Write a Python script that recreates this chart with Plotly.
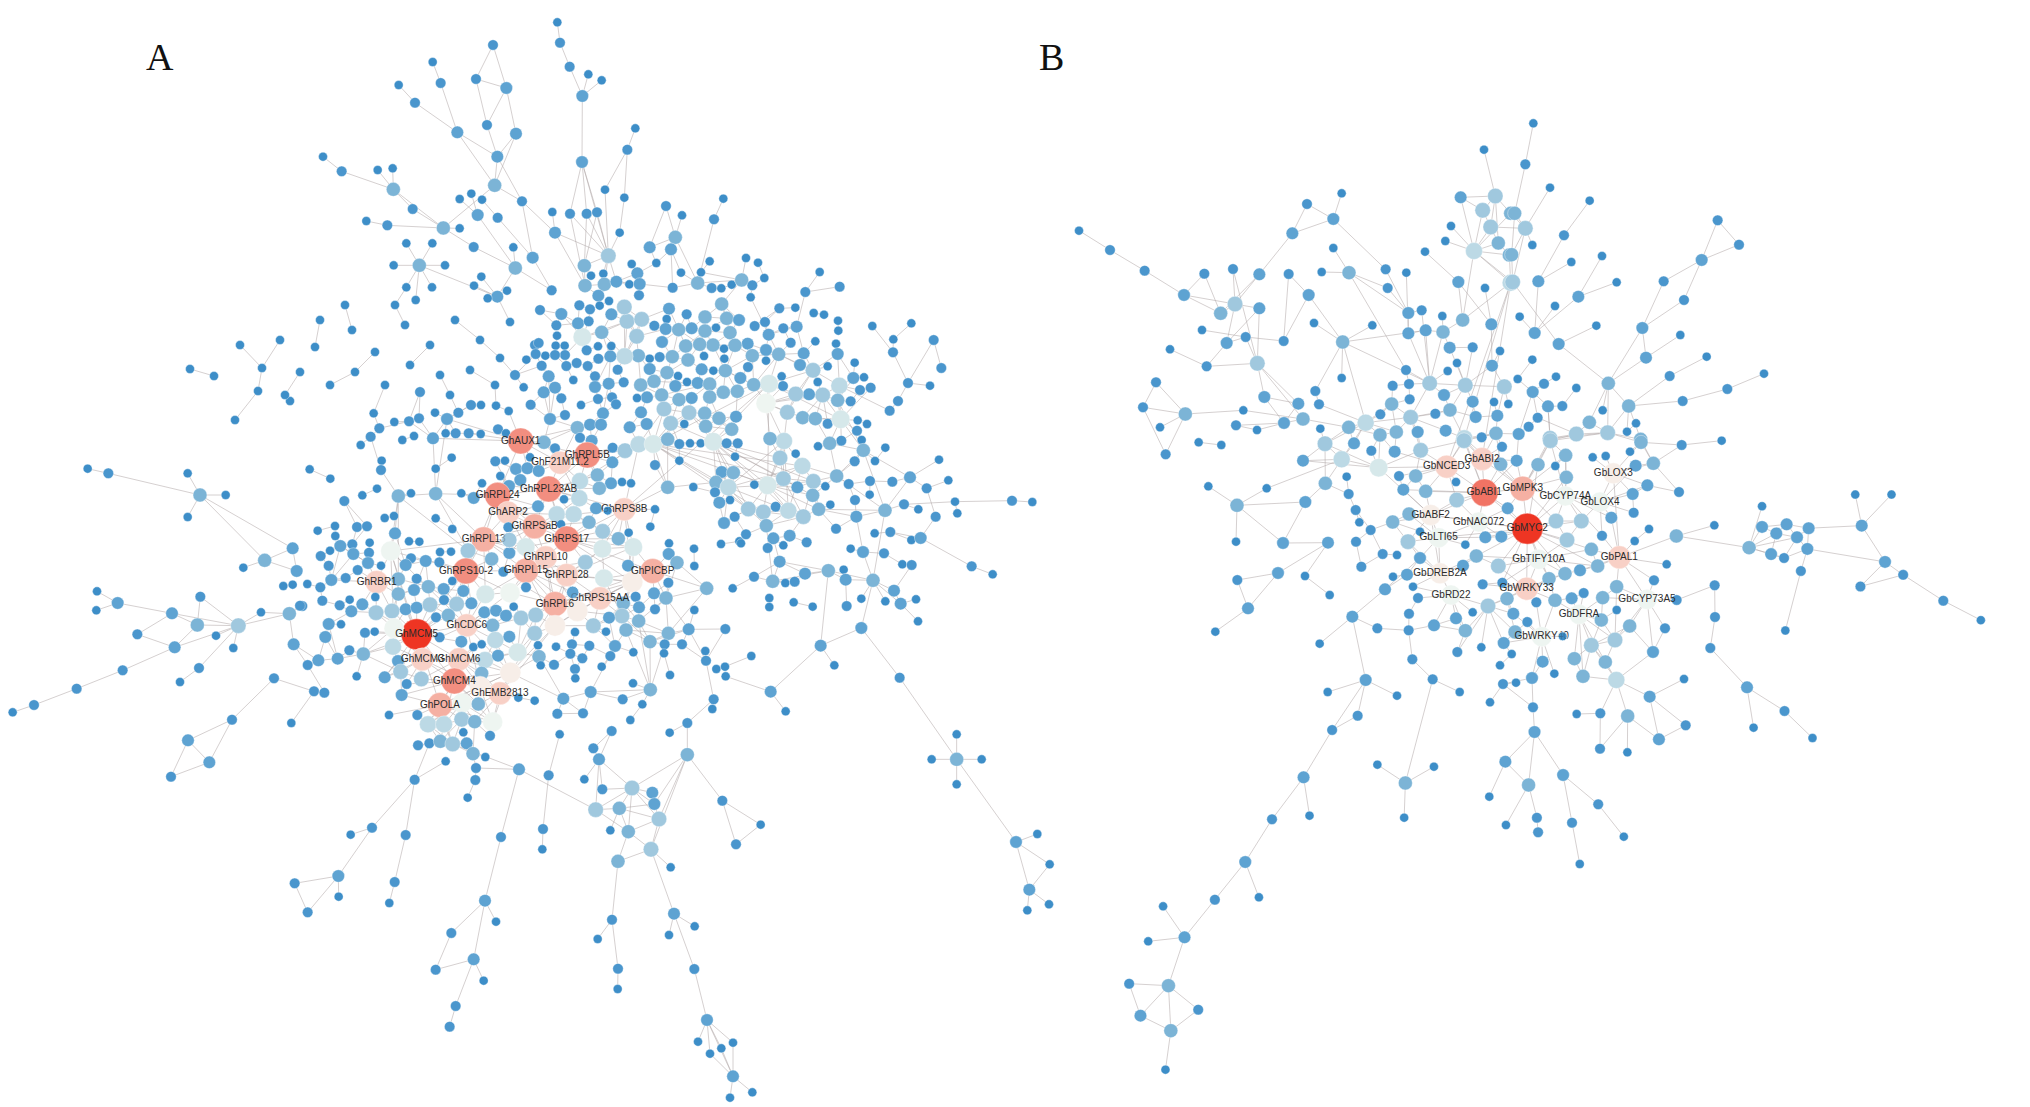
"""
Two co-expression networks, panel A (Gh genes) and panel B (Gb genes).

Node rows are (key, x, y, level), read off the picture by region. Each region has
its own origin and scale, see REGIONS. Level is the degree class that drives colour
and size. Edges are typed where they can be followed by eye; inside the dense cores
single edges cannot be read, so nodes short of links get their nearest neighbours.
"""

import numpy as np
import plotly.graph_objects as go

A_TOP = [
    ("t1",772,67,0),("t2",780,128,1),("t3",809,200,1),("t4",865,223,0),("t5",905,241,0),("t6",847,288,2),
    ("t7",846,486,2),("t8",1006,385,0),("t9",982,449,1),("t10",915,569,0),("t11",973,593,0),("t12",810,641,1),
    ("t13",860,641,1),("t14",891,637,1),("t15",757,636,0),("t16",765,698,2),("t17",959,698,0),("t18",925,767,4),
    ("t19",853,797,3),("t20",873,827,0),("t21",910,821,0),("t22",855,857,3),("t23",913,853,3),("t24",949,845,2),
    ("t25",895,887,2),("t26",995,792,0),("t27",1012,820,2),("t28",988,853,0),("t29",1019,852,2),("t30",1017,886,1),
    ("t31",1069,789,0),("t32",1049,742,2),("t33",1098,618,1),("t34",1146,646,0),("t35",1126,712,3),("t36",1113,748,2),
    ("t37",1143,818,0),("t38",1118,863,1),("t39",1193,849,3),("t40",1203,817,0),("t41",1229,784,0),("t42",1242,658,1),
    ("t43",1270,596,0),("t44",1235,864,1),("t45",1264,865,0),("t46",1295,854,0),("t47",1325,840,3),("t48",1338,774,0),
    ("t52",579,135,1),("t53",528,237,1),("t54",619,264,2),("t55",561,375,1),("t56",648,401,2),("t57",592,470,2),
    ("t58",584,556,3),("t59",666,604,1),("t60",398,186,0),("t61",422,249,1),("t62",296,255,0),("t63",345,308,1),
    ("t64",472,397,2),("t65",69,470,0),("t66",125,514,1),("t67",233,510,0),("t68",278,505,0),("t69",280,568,3),
    ("t70",338,627,1),("t71",199,663,0),("t72",262,676,1),("t73",430,684,3),("t74",479,597,0),("t75",514,581,0),
    ("t76",546,599,0),("t77",533,645,2),("t78",593,653,1),("t79",479,685,0),("t80",319,730,0),("t81",397,730,0),
    ("t82",281,796,0),("t83",358,796,3),("t84",435,796,0),("t85",319,862,0),("t86",396,862,0),("t87",521,741,1),
    ("t88",640,742,0),("t89",698,773,2),("t90",646,804,3),("t91",544,830,0),("t92",522,857,0),("t93",621,872,0),
    ("t94",592,890,2),("t95",755,871,1),("t96",563,895,0),("t97",347,900,0),
]

# stretch above the A core that no crop covered, whole-picture pixels
A_GAP = [
    ("g1",190,369,0),("g2",214,376,0),("g3",258,391,0),("g4",290,401,0),("g5",315,347,0),("g6",320,320,0),
    ("g7",352,330,0),("g8",375,352,0),("g9",405,325,0),("g10",430,345,0),("g11",455,320,0),("g12",480,340,0),
    ("g13",510,322,0),("g14",500,358,0),("g15",470,370,0),("g16",440,375,0),("g17",410,365,0),("g18",385,385,0),
    ("g19",355,372,0),("g20",330,385,0),("g21",300,372,0),("g22",450,395,0),("g23",495,385,0),("g24",420,392,1),
    ("g25",515,375,1),("g26",535,345,1),("g27",540,310,1),("g28",395,305,0),("g29",345,305,0),("g30",280,340,0),
    ("g31",285,395,0),("g32",262,368,0),("g33",240,345,0),("g34",235,420,0),
]

A_UPPER = [
    ("u1",778,265,1),("u2",826,263,0),("u3",881,279,0),("u4",912,284,0),("u5",954,302,0),("u6",955,332,0),
    ("u7",1057,318,0),("u8",1174,310,0),("u9",1120,358,0),("u10",1241,360,1),("u11",1119,397,1),("u12",1264,444,1),
    ("u13",1164,489,1),("u14",1230,497,0),("u15",1134,543,1),("u16",1109,572,1),("u17",605,252,3),("u18",555,291,3),
    ("u19",620,295,3),("u20",657,300,2),("u21",500,283,1),("u22",447,266,2),("u23",440,297,0),("u24",403,317,1),
    ("u25",437,327,2),("u26",476,329,3),("u27",515,325,2),("u28",555,333,3),("u29",588,323,0),("u30",630,338,3),
    ("u31",704,318,1),("u32",735,306,1),("u33",746,344,2),("u34",790,325,1),("u35",830,320,2),("u36",812,368,1),
    ("u37",886,364,0),("u38",948,371,0),("u39",953,402,2),("u40",851,400,2),("u41",776,403,3),("u42",738,390,2),
    ("u43",683,371,2),("u44",645,376,3),("u45",579,375,3),("u46",539,373,3),("u47",497,378,3),("u48",426,366,2),
    ("u49",612,386,0),("u50",697,407,3),("u51",738,422,0),("u52",613,416,0),("u53",552,408,0),("u54",504,420,3),
    ("u55",457,410,3),("u56",419,411,1),("u57",389,416,0),("u58",355,407,3),("u59",314,409,5),("u60",271,409,2),
    ("u61",350,349,4),("u62",321,304,4),("u63",365,298,4),("u64",313,261,4),("u65",245,337,3),("u66",187,351,6),
    ("u67",274,283,2),("u68",174,310,2),("u69",206,304,1),("u70",210,268,1),("u71",239,257,0),("u72",267,243,0),
    ("u73",178,256,1),("u74",124,282,2),("u75",109,316,1),("u76",111,347,0),("u77",56,369,1),("u78",107,377,0),
    ("u79",134,377,0),("u80",234,379,0),("u81",274,378,0),("u82",200,391,1),("u83",135,405,1),("u84",105,405,1),
    ("u85",76,407,0),("u86",47,402,1),("u87",19,419,0),("u88",65,437,1),("u89",139,438,1),("u90",170,429,1),
    ("u91",203,438,1),("u92",235,416,1),("u93",293,449,1),("u94",389,447,2),("u95",441,458,3),("u96",474,468,0),
    ("u97",545,448,2),("u98",580,452,0),("u99",616,452,3),("u100",661,474,2),("u101",684,441,1),("u102",785,469,0),
    ("u103",789,498,1),("u104",747,491,6),("u105",701,494,3),("u106",840,435,2),("u107",879,451,4),("u108",923,439,0),
    ("u109",1004,428,0),("u110",1000,474,2),("u111",1032,472,0),("u112",1020,510,1),("u113",1052,503,1),("u114",992,544,1),
    ("u115",958,497,5),("u116",953,541,3),("u117",908,525,4),("u118",867,523,2),("u119",827,522,4),("u120",893,486,0),
    ("u121",738,550,7),("u122",802,577,4),("u123",848,593,3),("u124",886,596,3),("u125",923,611,1),("u126",962,598,6),
    ("u127",1013,601,0),("u128",1041,612,0),("u129",1011,632,1),("u130",1025,660,0),("u131",964,662,1),("u132",1030,691,3),
    ("u133",1096,683,0),("u134",929,670,3),("u135",894,679,0),("u136",1004,724,1),("u137",1065,723,0),("u138",1257,719,0),
    ("u139",792,663,5),("u140",750,656,3),("u141",827,701,0),("u142",780,714,4),("u143",847,738,5),("u144",950,768,3),
    ("u145",986,792,1),("u146",880,784,4),("u147",790,776,4),("u148",743,796,6),("u149",703,794,0),("u157",832,802,2),
    ("u158",916,799,0),("u159",878,826,3),("u162",685,867,4),("u163",767,860,1),("u164",730,876,4),("u165",805,872,5),
    ("u166",896,868,3),("u167",931,854,0),("u168",1005,840,1),("u169",1050,783,1),("u170",1117,785,1),("u171",1170,772,2),
    ("u172",1049,824,0),("u173",1220,805,1),("u174",1285,781,0),("u175",1095,871,3),("u176",1152,853,1),("u177",1195,868,0),
    ("u178",1305,845,0),("u179",1312,880,0),("u180",1247,890,1),("u181",1009,890,2),("u182",850,890,4),
    ("u184",266,491,2),("u185",311,487,1),("u186",225,469,1),("u187",225,501,2),("u188",160,480,0),("u189",105,503,2),
    ("u190",86,469,2),("u191",11,502,0),("u192",71,517,2),("u196",124,535,1),("u199",234,537,1),("u200",276,532,1),
    ("u203",362,495,3),("u204",402,484,3),("u205",466,498,2),("u206",501,486,0),("u207",533,489,2),("u208",569,492,3),
    ("u209",610,517,3),("u210",652,514,3),("u211",425,525,3),("u212",381,532,2),("u213",351,534,0),("u214",477,539,3),
    ("u215",515,534,2),("u216",569,531,3),("u261",714,128,0),("u262",733,174,0),("u263",697,196,1),("u264",692,232,0),
    ("u265",899,156,0),("u266",856,216,1),("u267",959,200,1),
]

A_CORE = [
    ("c1",221,40,0),("c2",283,66,0),("c3",327,64,1),("c4",357,55,1),("c5",405,38,0),("c6",441,57,2),("c7",475,38,1),
    ("c8",513,15,1),("c9",543,15,0),("c10",588,17,0),("c11",626,33,0),("c12",692,14,1),("c13",750,57,2),("c14",795,45,1),
    ("c15",843,15,0),("c16",948,13,1),("c17",909,40,2),("c18",1023,37,2),("c19",1092,27,4),("c20",1167,38,4),("c21",1214,40,3),
    ("c22",1257,55,3),("c23",1308,50,2),("c24",832,83,3),("c25",870,74,2),("c26",903,74,2),("c27",989,82,2),("c28",1040,72,2),
    ("c29",1112,70,4),("c30",1153,72,0),("c31",1217,79,3),("c32",1295,88,3),("c33",212,110,1),("c34",182,135,0),("c35",238,85,1),
    ("c36",307,120,0),("c37",342,108,0),("c38",399,115,2),("c39",437,100,0),("c40",467,100,1),("c41",506,100,1),("c42",542,102,0),
    ("c43",594,88,1),("c44",618,100,0),("c45",662,123,11),("c46",732,127,3),("c47",765,145,1),("c48",840,113,1),("c49",875,122,2),
    ("c50",938,143,1),("c51",975,152,4),("c52",1016,133,5),("c53",1060,132,6),("c54",1103,118,3),("c55",1138,132,1),("c56",1170,130,0),
    ("c57",1202,130,0),("c58",1240,125,6),("c59",1280,130,1),("c60",1313,130,1),("c62",862,165,11),("c63",780,188,9),("c64",937,187,2),
    ("c65",1065,195,1),("c66",1138,182,0),("c67",1305,170,0),("c68",586,184,1),("c69",615,182,0),("c70",690,172,0),("c71",648,207,2),
    ("c72",682,205,2),("c73",716,213,2),("c74",455,173,0),("c75",245,182,0),("c76",243,210,1),("c77",29,208,0),("c78",91,236,0),
    ("c79",407,206,0),("c80",601,228,0),("c81",892,225,3),("c82",840,243,5),("c83",661,240,2),("c84",746,267,11),("c85",933,250,2),
    ("c86",966,246,0),("c87",993,250,0),("c88",898,265,3),("c89",1103,262,3),("c90",1180,261,0),("c91",1265,216,2),("c92",1300,218,3),
    ("c94",1248,247,3),("c95",1285,262,5),("c97",1245,277,1),("c99",546,250,0),("c100",627,258,2),("c101",593,286,11),("c102",521,294,2),
    ("c103",231,266,0),("c104",295,288,3),("c105",333,280,0),("c106",407,281,3),("c107",484,280,0),("c108",187,286,0),("c109",133,303,1),
    ("c110",792,298,0),("c111",838,295,5),("c112",714,319,2),("c113",888,325,2),("c114",973,328,9),("c115",923,332,0),("c116",1065,328,0),
    ("c117",1258,308,2),("c118",1290,300,0),("c119",624,338,9),("c120",770,343,5),("c121",821,343,5),("c122",1304,350,1),("c123",254,354,0),
    ("c124",282,348,0),("c125",407,355,0),("c126",867,367,3),("c127",704,379,10),("c128",625,382,1),("c129",1051,380,0),("c130",1272,369,2),
    ("c132",457,387,0),("c133",53,392,0),("c134",105,378,0),("c135",171,381,1),("c136",201,379,1),("c137",106,408,0),("c138",285,400,2),
    ("c139",783,373,0),("c140",908,394,4),("c141",986,398,0),("c142",551,418,10),("c143",800,417,11),("c144",628,420,4),("c145",955,416,3),
    ("c146",1107,430,0),("c147",1263,432,0),("c148",1318,424,0),("c149",121,438,2),("c150",157,433,1),("c151",209,428,0),("c152",327,424,0),
    ("c153",358,425,0),("c154",420,456,0),("c155",453,455,0),("c156",504,452,4),("c157",677,441,6),("c158",907,446,6),("c159",1000,441,6),
    ("c160",272,453,7),("c161",90,452,0),("c162",207,458,1),("c163",62,468,1),("c164",160,462,2),("c165",333,475,1),("c166",377,483,2),
    ("c167",418,487,1),("c168",317,495,2),("c169",243,497,0),("c170",204,489,2),("c171",86,497,1),("c172",575,477,3),("c173",628,459,2),
    ("c174",737,472,9),("c175",856,487,4),("c176",1106,462,2),("c177",1131,488,3),("c178",1182,446,0),("c179",1183,498,0),("c181",984,497,2),
    ("c182",173,510,1),("c183",498,513,11),("c184",678,512,10),("c185",610,515,1),("c186",800,525,9),("c187",1058,513,10),("c188",912,535,6),
    ("c189",997,546,8),("c190",1105,548,1),("c191",230,546,9),("c192",295,537,3),("c193",350,536,1),("c194",457,543,0),("c195",22,552,0),
    ("c196",94,540,2),("c197",137,534,1),("c198",61,562,1),("c199",342,570,2),("c200",385,560,3),("c201",431,567,2),("c202",490,573,2),
    ("c203",556,583,6),("c204",630,578,7),("c205",678,562,1),("c206",818,577,2),("c207",900,595,9),("c208",1220,565,3),("c209",1298,565,0),
    ("c210",1062,580,2),("c211",1098,594,3),("c212",295,582,3),("c213",226,591,0),("c214",149,599,0),("c215",67,602,1),("c216",7,618,1),
    ("c217",119,616,1),("c218",187,613,2),("c219",154,634,2),("c220",228,638,4),("c221",276,633,4),("c222",317,628,2),("c223",350,623,2),
    ("c224",390,614,4),("c225",432,600,1),("c226",470,612,4),("c227",514,610,2),("c228",765,612,10),("c229",641,620,0),("c230",970,610,3),
    ("c231",1007,590,1),("c232",1017,622,2),("c233",1065,628,1),("c234",1183,630,0),("c235",832,633,8),("c236",966,648,4),("c238",880,677,4),
    ("c239",927,653,2),("c240",1016,663,3),("c241",445,646,3),("c242",553,637,2),("c243",588,632,2),("c244",618,647,2),("c245",663,654,4),
    ("c246",707,645,4),("c247",765,677,8),("c248",500,676,9),("c249",86,672,2),("c250",123,673,0),("c251",408,652,1),("c252",578,676,3),
    ("c253",978,690,3),("c254",1105,700,3),("c255",1166,688,2),("c256",1276,687,1),("c257",918,695,0),("c258",825,696,0),("c259",350,703,12),
    ("c260",282,685,7),("c261",195,698,1),("c262",224,695,0),("c263",76,711,2),("c264",419,712,1),("c265",484,725,2),("c266",704,700,4),
    ("c267",586,720,5),("c268",628,710,2),("c269",1050,725,3),("c270",279,740,5),("c271",520,741,0),("c272",545,733,0),("c273",714,736,0),
    ("c274",768,740,0),("c275",816,733,1),("c276",868,737,1),("c277",945,738,2),("c278",1000,757,0),("c279",1094,733,1),("c280",1146,733,1),
    ("c281",1092,760,0),("c282",1216,753,0),("c283",653,757,6),("c284",148,751,1),("c285",190,762,3),("c286",555,780,5),("c287",594,767,2),
    ("c288",717,770,3),("c289",811,761,1),("c290",847,775,1),("c291",931,768,1),("c292",367,778,9),("c293",477,778,9),("c294",55,781,2),
    ("c295",113,776,2),("c296",23,795,1),("c297",294,783,2),("c298",1218,782,1),("c299",1249,807,0),("c300",1275,800,0),("c301",762,794,1),
    ("c302",825,807,1),("c303",905,800,0),("c304",722,796,0),("c305",1110,825,0),("c306",1277,829,0),("c307",302,815,4),("c308",545,820,3),
    ("c309",631,818,8),("c310",170,829,0),("c311",254,832,2),("c312",364,837,4),("c313",463,843,11),("c314",320,852,1),("c315",999,850,0),
    ("c316",1051,869,3),("c317",826,835,0),("c318",600,880,9),("c319",540,860,8),("c320",872,876,2),("c321",42,874,1),("c322",73,878,1),
    ("c323",305,885,2),("c324",420,915,10),("c325",486,909,7),("c326",535,912,3),("c327",655,893,0),("c328",704,902,0),("c329",790,896,2),
    ("c330",968,898,1),("c331",1027,913,0),("c332",1241,898,1),("c333",1237,927,0),("c334",267,945,0),("c335",352,945,1),("c336",772,941,1),
    ("c337",849,940,1),("c338",991,960,0),("c339",1162,969,1),("c340",384,973,5),("c341",432,973,5),("c342",485,958,4),("c343",524,965,3),
    ("c344",578,966,7),("c345",490,997,0),("c346",570,1007,1),("c347",779,1003,0),("c348",935,993,1),("c349",1109,998,0),("c350",354,1036,1),
    ("c351",388,1030,1),("c352",421,1024,3),("c353",458,1032,4),("c354",500,1030,2),("c355",880,1045,1),
]

A_LEFT = [
    ("l1",263,86,0),("l2",325,100,1),("l3",563,100,0),("l4",600,165,3),("l5",677,165,0),("l6",563,231,0),("l7",878,325,2),
    ("l8",794,361,3),("l9",730,383,0),("l10",890,393,2),("l11",850,438,0),("l12",878,434,0),("l13",291,454,0),("l14",353,489,2),
    ("l15",289,511,0),("l16",601,470,1),("l17",516,520,2),("l18",592,555,3),("l19",715,557,4),("l20",648,587,0),("l21",783,517,0),
    ("l22",868,521,3),("l23",900,497,1),("l24",412,583,1),("l25",524,622,2),("l26",700,624,0),("l27",881,613,2),("l28",597,684,1),
    ("l29",540,726,0),("l30",368,691,1),("l31",822,715,1),("l32",230,746,1),("l33",102,795,1),("l34",38,817,0),("l35",696,839,1),
    ("l36",564,901,2),("l37",628,967,2),("l38",513,1010,1),("l39",874,849,0),
]

A_LOWER = [
    ("d1",669,71,3),("d2",706,81,0),("d3",587,94,0),("d4",678,114,1),("d5",676,150,1),("d6",653,203,0),("d7",807,118,2),
    ("d8",494,149,1),("d9",366,293,1),("d10",302,314,0),("d11",467,315,1),("d12",265,438,2),("d13",134,460,1),("d14",266,500,0),
    ("d15",173,547,1),("d16",434,456,1),("d17",418,519,0),("d18",753,321,1),("d19",705,512,2),("d20",604,609,1),("d21",738,575,0),
    ("d22",671,688,2),("d23",557,719,1),("d24",701,752,0),("d25",617,828,1),("d26",599,890,1),("d27",896,136,1),("d28",879,297,1),
    ("d29",877,358,0),("d31",1047,88,2),("d32",1003,148,0),("d33",1057,178,1),("d34",1146,174,4),("d35",1207,188,2),("d36",1213,222,2),
    ("d37",1108,235,3),("d38",1037,239,4),("d39",1227,267,4),("d40",1081,301,0),("d41",1135,305,3),("d42",1203,358,4),("d43",1104,394,3),
    ("d44",1262,412,0),("d45",1086,569,1),("d46",1043,627,0),("d47",1104,716,1),("d48",1103,777,0),("d49",1272,551,2),("d50",1334,589,0),
    ("d51",1257,615,0),("d52",1333,717,1),("d53",1312,74,3),
]

A_RIGHT = [
    ("r1",288,266,1),("r2",18,283,1),("r3",100,295,2),("r4",149,287,2),("r5",200,307,1),("r6",83,324,1),("r7",130,316,0),
    ("r8",332,326,0),("r9",369,336,2),("r10",432,340,1),("r11",404,280,0),("r12",451,276,1),("r13",514,300,0),("r14",542,294,2),
    ("r15",119,365,2),("r16",487,373,0),("r17",515,375,1),("r18",695,379,1),("r19",758,403,0),("r20",42,410,1),("r21",98,424,3),
    ("r22",136,429,0),("r23",164,425,1),("r24",195,401,2),("r25",265,392,3),("r26",311,389,0),("r27",317,419,2),("r28",399,421,3),
    ("r29",462,452,2),("r30",88,474,0),("r31",88,501,0),("r32",161,487,0),("r33",218,500,0),("r34",320,498,1),("r35",364,476,0),
    ("r36",436,484,0),("r37",482,491,2),("r38",528,478,0),("r39",534,544,0),("r40",364,564,2),("r41",242,617,2),("r42",283,676,0),
    ("r43",34,648,0),("r44",479,713,1),("r45",92,755,2),("r46",137,814,0),("r48",816,182,1),("r49",877,186,0),("r50",79,257,3),("r51",3,310,0),
]

A_FAR = [
    ("e1",487,242,1),("e2",602,314,0),("e3",528,373,1),("e5",441,900,2),("e6",414,965,0),("e7",450,1001,0),("e8",484,985,0),
    ("e9",519,968,0),("e10",519,1069,2),("e11",577,1117,0),("e12",510,1133,0),("e13",1190,43,0),("e14",1115,118,0),("e15",1190,118,3),
    ("e16",1265,118,0),("e17",1190,193,0),("e18",1368,366,2),("e19",1432,342,0),("e20",1469,433,0),("e21",1408,509,2),("e22",1467,553,0),
    ("e23",1402,571,0),
]

B_TOP_LEFT = [
    ("b1",57,362,0),("b2",150,420,1),("b3",254,482,1),("b4",372,555,2),("b5",433,491,1),("b6",519,477,1),("b7",598,493,2),
    ("b8",525,582,4),("b9",482,610,3),("b10",598,595,2),("b11",426,660,0),("b12",557,681,1),("b13",500,699,2),("b14",330,718,0),
    ("b15",440,769,1),("b16",592,760,4),("b17",671,693,1),("b18",686,492,1),("b19",746,555,2),("b20",697,370,2),("b21",741,282,1),
    ("b22",845,250,0),("b23",820,327,2),("b24",820,414,0),("b25",785,486,0),("b26",867,488,3),("b27",977,478,1),("b28",983,534,1),
    ("b29",1039,488,0),("b30",1095,425,0),("b31",1156,393,0),("b32",1173,348,0),("b33",1195,516,2),("b34",1272,119,0),("b35",1202,262,2),
    ("b36",1306,258,4),("b37",1268,301,4),("b38",1292,351,4),("b39",1242,423,5),("b40",1315,399,3),("b41",1352,310,3),("b42",1348,435,3),
    ("b43",1275,534,0),("b44",1352,518,5),("b45",1045,609,2),("b46",1085,601,1),("b47",1147,618,0),("b48",1208,630,3),("b49",1294,643,2),
    ("b50",1045,670,2),("b51",1097,661,2),("b52",1149,666,3),("b53",1169,713,2),("b54",1238,712,1),("b55",1320,723,0),("b56",1296,767,2),
    ("b57",937,646,0),("b58",762,639,0),("b59",848,696,3),("b60",845,804,0),("b61",1038,780,1),("b62",1163,783,0),("b63",1191,759,0),
    ("b64",1109,820,4),("b65",1216,826,4),("b66",1333,830,4),("b67",1047,822,1),("b68",998,827,1),("b69",1152,855,2),("b70",1238,875,2),
    ("b71",1302,876,0),("b72",1345,882,0),("b73",766,843,1),("b74",777,883,1),("b75",715,881,2),("b76",613,861,2),("b77",550,901,0),
    ("b78",288,817,1),("b79",249,892,1),("b80",376,912,3),("b81",300,952,0),("b82",528,946,1),("b83",591,960,0),("b84",672,939,2),
    ("b85",729,927,3),("b86",781,956,0),("b87",866,952,3),("b88",917,938,5),("b89",961,913,1),("b90",995,882,3),("b91",1049,868,1),
    ("b92",1052,922,4),("b93",1126,911,1),("b94",1170,900,3),("b95",1247,921,2),("b96",1312,917,2),("b97",1157,962,2),("b98",1213,985,5),
    ("b99",1073,966,2),("b100",1009,966,3),("b101",960,975,3),("b102",1265,982,1),("b103",1308,970,3),
]

B_TOP_RIGHT = [
    ("m1",100,40,0),("m2",76,163,1),("m3",150,233,0),("m4",269,272,0),("m5",44,310,3),("m6",76,355,4),("m7",192,376,1),("m8",97,405,0),
    ("m9",35,434,3),("m10",38,516,4),("m11",115,514,2),("m12",214,456,0),("m13",306,438,0),("m14",350,517,0),("m15",235,560,2),
    ("m16",165,588,0),("m17",59,620,0),("m18",104,669,2),("m19",176,702,2),("m20",289,647,0),("m21",427,654,2),("m22",491,514,1),
    ("m23",605,450,2),("m24",653,331,1),("m25",717,404,1),("m26",552,570,1),("m27",541,675,0),("m28",438,743,2),("m29",620,740,0),
    ("m30",509,798,1),("m31",792,791,0),("m32",682,837,1),("m33",548,873,1),("m34",325,820,3),("m35",386,888,3),("m36",97,749,0),
    ("m37",53,807,0),("m38",132,821,1),("m39",168,800,0),("m40",229,834,0),("m41",98,846,2),("m44",144,889,2),("m45",187,888,1),
    ("m46",113,923,1),("m47",86,950,1),("m48",56,972,2),("m49",308,901,0),("m50",268,937,3),("m51",229,972,4),("m52",150,985,4),
    ("m53",323,968,4),("m54",381,965,0),("m55",408,940,0),("m56",422,988,3),
]

B_CORE = [
    ("k1",42,70,2),("k2",5,118,5),("k3",94,92,1),("k4",164,95,2),("k5",242,91,4),("k6",116,143,6),("k7",20,170,0),("k8",177,168,1),
    ("k9",227,168,3),("k10",320,140,9),("k11",372,62,4),("k12",486,80,1),("k13",426,117,9),("k14",482,133,3),("k15",530,122,2),
    ("k16",594,134,3),("k17",646,138,0),("k18",631,62,4),("k20",677,106,3),("k21",758,112,0),("k22",797,108,0),("k23",870,95,0),
    ("k24",903,67,3),("k25",820,160,8),("k26",887,137,2),("k27",940,130,3),("k28",1025,75,1),("k29",1145,62,0),("k30",679,172,3),
    ("k31",548,206,10),("k32",433,218,11.3),("k33",348,186,0),("k34",190,209,2),("k35",257,214,3),("k36",350,240,4),("k37",26,222,1),
    ("k38",47,270,1),("k39",58,307,0),("k40",92,330,1),("k41",48,365,1),("k42",158,306,3),("k43",207,282,3),("k44",272,285,8),
    ("k45",240,335,0),("k46",296,353,7),("k47",204,365,4),("k48",376,374,0),("k49",416,306,7),("k50",503,265,2),("k51",436,352,2),
    ("k52",484,350,2),("k53",562,326,12),("k54",648,303,4),("k55",681,360,4),("k56",724,303,4),("k57",676,228,7),("k58",780,246,7),
    ("k59",814,293,2),("k60",786,347,1),("k61",922,196,2),("k62",878,222,2),("k63",881,278,1),("k64",927,327,0),("k65",884,363,0),
    ("k66",1017,216,1),("k67",1009,348,3),("k68",1123,316,0),("k69",128,402,1),("k70",171,405,0),("k71",240,414,2),("k72",64,440,1),
    ("k73",159,470,0),("k74",201,464,2),("k75",219,500,0),("k76",234,534,1),("k77",135,508,2),("k78",37,590,2),("k79",112,625,1),
    ("k80",300,460,8),("k81",369,437,2),("k82",409,408,3),("k83",475,438,4),("k84",428,493,1),("k85",487,488,1),("k86",333,525,7),
    ("k87",207,581,1),("k88",206,631,1),("k89",282,616,2),("k90",348,595,2),("k91",398,577,0),("k92",376,632,3),("k93",444,558,4),
    ("k94",501,536,3),("k95",520,581,2),("k96",562,606,1),("k97",589,547,1),("k98",525,636,3),("k99",560,506,9),("k100",596,418,7),
    ("k101",627,476,3),("k102",675,461,3),("k103",720,451,2),("k104",773,438,3),("k105",754,388,3),("k106",838,412,9),("k107",980,433,0),
    ("k108",645,541,3),("k109",695,535,2),("k110",731,519,1),("k111",788,533,3),("k112",830,500,3),("k113",942,481,1),("k114",921,538,7),
    ("k115",1010,540,1),("k116",1124,496,1),("k117",1125,591,1),("k118",717,583,7),("k119",784,600,3),("k120",830,570,0),("k121",869,618,3),
    ("k122",975,625,1),("k123",1111,684,1),("k124",605,650,7),("k125",668,649,0),("k126",491,669,2),("k127",515,702,0),("k128",424,682,0),
    ("k129",352,696,1),("k130",217,718,1),("k131",480,736,0),("k132",608,725,2),("k133",643,761,0),("k134",703,716,3),("k135",754,676,4),
    ("k136",825,660,4),("k137",796,726,3),("k138",939,696,2),("k139",729,769,3),("k140",829,780,5),("k141",576,774,2),("k142",489,792,1),
    ("k143",528,788,0),("k144",77,780,2),("k145",278,778,1),("k146",171,827,0),("k147",359,816,0),("k148",450,847,0),("k149",929,830,2),
    ("k150",1032,777,0),("k151",710,882,0),("k152",781,880,1),("k153",863,888,3),("k154",579,862,1),("k155",53,887,1),
]

B_LEFT = [
    ("s1",317,73,1),("s2",416,37,0),("s3",484,45,0),("s5",445,169,0),("s6",531,226,3),("s7",620,175,0),("s8",736,216,2),("s9",528,335,0),
    ("s10",669,339,2),("s11",804,338,2),("s12",654,429,2),("s13",735,438,0),("s14",532,450,1),("s15",564,535,2),("s16",466,605,0),
    ("s17",809,495,0),("s18",779,641,0),("s19",729,92,2),("s20",795,41,4),("s21",796,160,3),("s25",803,786,0),
]

B_LOWER = [
    ("v1",390,150,1),("v3",342,292,2),("v4",289,418,1),("v5",352,407,0),("v6",244,546,2),("v7",267,652,0),("v8",193,659,1),("v9",106,679,0),
    ("v10",142,772,2),("v11",81,784,0),("v12",115,917,3),("v13",49,911,1),("v14",68,1007,2),("v15",165,989,1),("v16",119,1052,3),
    ("v17",110,1169,0),("v18",466,254,0),("v19",561,260,0),("v20",513,309,3),("v21",511,413,0),("v22",730,156,2),("v23",681,245,2),
    ("v24",720,315,3),("v25",654,350,0),("v26",682,435,0),("v27",734,413,1),("v28",736,457,1),("v29",778,285,2),("v30",837,373,1),
    ("v31",793,428,1),("v32",806,552,0),("v33",880,470,0),("v36",840,206,1),("v37",886,217,0),("v38",939,178,2),("v39",984,136,1),
    ("v40",1087,22,2),("v41",1150,93,1),("v42",1098,143,0),("v43",1197,174,0),
]

B_RIGHT = [
    ("w1",1351,423,3),("w2",1361,407,2),("w3",1372,412,2),("w4",1380,405,2),("w5",1388,415,2),("w6",1397,408,2),("w7",1396,424,2),
    ("w8",1368,428,2),("w9",1378,431,1),("w10",1361,391,0),("w11",1391,441,1),("w12",1433,382,0),("w13",1461,382,0),("w14",1438,406,2),
    ("w15",1456,434,2),("w16",1437,453,1),("w17",1470,444,1),("w18",1501,464,1),("w19",1530,479,0),("w20",1379,487,0),
]

# rows, left edge, top edge, x scale, y scale of the crop they were read from
REGIONS = [
    (A_TOP, 300, 0, 3, 3), (A_GAP, 0, 0, 1, 1), (A_UPPER, 520, 220, 3, 3), (A_CORE, 300, 400, 3, 3),
    (A_LEFT, 0, 440, 3, 3), (A_LOWER, 250, 730, 3, 3), (A_RIGHT, 740, 440, 3, 3), (A_FAR, 560, 720, 3, 3),
    (B_TOP_LEFT, 1060, 110, 3, 3), (B_TOP_RIGHT, 1500, 110, 3, 3), (B_CORE, 1340, 420, 3, 3),
    (B_LEFT, 1060, 430, 3, 3), (B_LOWER, 1100, 680, 1.68, 3), (B_RIGHT, 0, 0, 0.7724, 0.7724),
]

EDGES_A = {
    "t1":"t2","t2":"t3","t3":"t6","t6":"t4 t5 t7","t7":"t12 t13 t14 t18","t8":"t9","t9":"t10 t11","t10":"t18","t11":"t17",
    "t12":"t18 t22","t13":"t19 t18","t14":"t18 t19","t15":"t16","t16":"t18 t22 t59","t17":"t18","t18":"t19 t23 t24 t21",
    "t19":"t22 t20","t22":"t23 t25","t23":"t24 t25","t24":"t27 t28 t29","t27":"t26 t29 t31","t29":"t30 t38","t31":"t32 t36",
    "t32":"t33 t35","t33":"t35","t34":"t35","t35":"t36 t39","t36":"t37 t38","t37":"t39","t38":"t39","t39":"t40 t42 t44 t47",
    "t41":"t40","t42":"t43","t44":"t45","t45":"t46","t46":"t47","t47":"t48 t40",
    "t52":"t53 t54","t53":"t54 t55","t54":"t55 t56","t55":"t57","t56":"t58","t57":"t58 t64 t59","t60":"t61","t61":"t64","t62":"t63",
    "t63":"t64","t64":"t58","t58":"t59 t73","t59":"t16 t89","t65":"t66","t66":"t69","t67":"t69","t68":"t69","t69":"t70 t73","t70":"t73",
    "t71":"t72","t72":"t73","t73":"t87","t74":"t77","t75":"t77","t76":"t78","t77":"t90","t78":"t89","t87":"t90","t88":"t90","t90":"t95 t94",
    "t89":"t95","t80":"t83","t81":"t83","t82":"t83","t83":"t84 t85 t86 t94 t97","t91":"t94","t92":"t94","t93":"t94","t96":"t94",
    "u8":"u9","u9":"u11","u10":"u12 u13","u11":"u13 u7","u13":"u14 u15","u15":"u16","u265":"u266","u266":"u267 u35","u1":"u31","u261":"u262",
    "u262":"u263","u263":"u264","u264":"u33","u16":"u115","u113":"u126","u138":"u171","u174":"u173","u178":"r48 u176",
    "c45":"c46 c47 c24 c63 c62 c70 c43 c11 c44 c72 c73 c38 c41",
    "c62":"c63 c64 c50 c81 c82 c84 c48 c49 c51 c52 c88",
    "c63":"c84 c73 c82 c71 c72",
    "c84":"c82 c111 c112 c100 c101 c120 c121 c127 c143 c114 c88 c81",
    "c101":"c119 c127 c142 c102 c100 c112 c83",
    "c119":"c127 c142 c144 c112 c120 c157",
    "c127":"c143 c142 c120 c121 c157 c174 c126 c144 c173",
    "c143":"c157 c158 c174 c175 c186 c126 c140 c121 c159 c145",
    "c142":"c157 c173 c172 c183 c184 c156 c144",
    "c183":"c172 c184 c203 c204 c202 c226 c227 c241 c156 c167",
    "c184":"c174 c186 c204 c205 c228 c203 c175 c206",
    "c186":"c188 c206 c207 c228 c175 c158 c159",
    "c187":"c159 c188 c189 c176 c177 c207 c181 c210 c211",
    "c207":"c206 c235 c228 c188 c189 c230 c231 c238",
    "c228":"c235 c247 c246 c245 c204 c205 c206",
    "c114":"c113 c115 c145 c140 c158 c159 c116 c121",
    "c191":"c192 c160 c170 c182 c196 c218 c213 c220 c221 c212",
    "c259":"c260 c270 c241 c248 c251 c264 c265 c292 c293 c313 c312 c224 c226 c222 c223 c221 c220 c261 c262 c285 c307 c311",
    "c248":"c252 c242 c243 c226 c264 c265 c267 c241 c227",
    "c293":"c292 c313 c286 c308 c271 c272 c265 c312",
    "c292":"c313 c312 c307 c270 c311 c314",
    "c313":"c319 c318 c324 c325 c326 c308 c312 c323 c314",
    "c324":"c325 c326 c340 c341 c342 c335 c323 c334",
    "c318":"c319 c326 c327 c309 c308 c344 c343",
    "c325":"c341 c342 c343 c344",
    "c260":"c220 c221 c222 c270 c192",
    "c283":"c267 c268 c286 c288 c246 c245 c266",
    "c53":"c52 c58 c29 c20 c51 u148 u147 u164 u162 c54 c19 u143",
    "c58":"u147 u148 u165 u142 u162 c59 c60 c29 u146 u159",
    "u148":"u147 u146 u142 u143 u139 u165 u164 u157 u159 u166 u182",
    "u139":"u142 u143 u147 u140 u122 u121",
    "u121":"u104 u119 u117 u122 u123 u105 u140 u103 u118",
    "u126":"u116 u117 u115 u124 u123 u127 u129 u125 u131",
    "u115":"u116 u117 u110 u112",
    "u117":"u118 u119 u124 u125 u123",
    "u66":"u65 u62 u68 u69 u74 u83 u82",
    "u59":"u60 u58 u61 u65 u62 u63 u56",
    "u61":"u62 u63 u64 u58 u25",
    "u99":"u98 u97 u100 u105 u208 u209 u210 u45 u44",
    "u208":"u209 u207 u204 u205 u211 u215 u216",
    "r18":"r19 r14","r14":"r13 r12","r48":"r49","r40":"r44 r28","r44":"e15","e15":"e13 e14 e16 e17 e18","e18":"e19 e20 e21","e20":"e21",
    "e21":"e22 e23","r41":"r42 r45 r25","r45":"r46 c306","r27":"r28 r34","r28":"r29 r35 r37 r36","r29":"r17","r15":"r21 r25 r3 r24","r21":"r22 r23",
    "r37":"r39 r38","r3":"r6 r7","r4":"r5","r9":"r10 r8","r10":"r16","r16":"r17","r11":"r12","r12":"r13",
    "e1":"e2 e3 d53","e2":"e3","d53":"d34 d36 d42 d39","d34":"d37 d35 d36 d33 d39 d41","d38":"d37 d41 d7 d31","d31":"d32 d33 d34 c355",
    "d35":"d36","d36":"d39","d37":"d39 d41 d36 d40","d39":"d42 d41","d41":"d42 d43","d42":"d43 d44 d49","d43":"d45","d45":"d46 d47","d47":"d48",
    "d49":"d50 d51 d52","d52":"e5","e5":"e6 e7 e8 e9 e10","e10":"e7 e8 e9 e11 e12","d7":"d4 d18 c353","d18":"d19","d19":"d20 d21 d22",
    "d20":"d23","d22":"d23 d24 d25","d25":"d26","d8":"d9 d11 c351","d9":"d10 d12","d12":"d13 d14 d15","d13":"d15","d11":"d16","d16":"d17",
    "d27":"d28 c347","d28":"d29","d3":"d8","d1":"d4 c354","d4":"d5","d5":"d6",
    "l1":"l2","l2":"l4","l3":"l4","l4":"l5 l6 l7 l8","l8":"l7 l9 l10","l7":"l10","l11":"l12","l13":"l14","l14":"l15 l17","l16":"l18 l19",
    "l17":"l18 l19 l24","l18":"l19 l25","l19":"l20 l25 l21 l26 l28","l21":"l22","l22":"l23 l27","l24":"l25","l25":"l30","l28":"l29",
    "l30":"l32","l32":"l33","l33":"l34","l35":"l36 l37 l31","l36":"l37 l38","l37":"l38","l31":"c321",
}

EDGES_B = {
    "k53":"k31 k32 k50 k51 k52 k54 k55 k56 k57 k49 k82 k83 k100 k99 k101 k102 k105 k104 k16 k30 k85 k46 k44",
    "k32":"k13 k10 k31 k36 k35 k44 k49 k50 k34 k11 k14 k15",
    "k31":"k13 k15 k16 k30 k57 k20 k14 k54 k50",
    "k13":"k10 k11 k14 k15 k12",
    "k10":"k6 k5 k9 k35 k36 k8 k4",
    "k57":"k58 k54 k56 k30 k20 k60 k59",
    "k58":"k25 k56 k59 k60 k26 k61 k62 k63",
    "k25":"k27 k26 k62 k61 k24 k22 k21",
    "k106":"k105 k104 k112 k60 k65 k107 k114 k113 k59 k67 k103",
    "k114":"k112 k111 k113 k115 k121 k122 k136 k138",
    "k118":"k111 k119 k135 k134 k109 k110 k136 k137 k139",
    "k124":"k98 k96 k95 k97 k132 k133 k126 k108 k125",
    "k99":"k94 k97 k101 k108 k93 k83 k84 k85 k100 k102",
    "k100":"k101 k102 k104 k83 k82 k85 k105",
    "k80":"k46 k71 k74 k81 k86 k75 k44 k82 k47",
    "k46":"k44 k47 k42 k43 k49 k45 k48 k71 k51",
    "k44":"k43 k42 k49 k36 k34 k35",
    "k86":"k76 k90 k92 k93 k75 k89 k91",
    "k49":"k36 k51 k52 k48 k50",
    "k140":"k137 k139 k138 k153 k152 k135 k149",
    "k135":"k136 k137 k121 k119 k134 k139",
    "k136":"k137 k121 k119 k112",
    "k93":"k92 k94 k95 k126 k128 k129 k98",
    "k6":"s20 s19 k5 k2",
    "b1":"b2","b2":"b3","b3":"b4","b4":"b5 b8 b9","b5":"b9","b6":"b8 b16","b7":"b8 b20 b9","b8":"b9 b10 b13","b10":"b13 b16","b11":"b12",
    "b12":"b17 b13 b16","b13":"b15","b14":"b15","b15":"b16","b16":"b76 b75 b85","b17":"b18 b19","b18":"b19","b19":"b59","b20":"b21 b23",
    "b22":"b23","b23":"b27","b24":"b26","b25":"b26","b26":"b28 b45 b61","b27":"b45","b28":"b45","b29":"b50","b30":"b33","b31":"b39","b32":"b39",
    "b33":"b48 b49","b34":"b36","b35":"b36 b39","b36":"b37 b38 b40","b37":"b39 b38","b38":"b39 b40","b39":"b40 b42 b41 b48","b40":"b42",
    "b42":"b44","b43":"b49","b44":"b48","b45":"b50","b46":"b64","b47":"b52","b49":"b56","b50":"b64 b51","b51":"b52 b59 b64","b52":"b53 b64",
    "b53":"b65","b54":"b65","b55":"b56","b56":"b65 b66","b57":"b59","b58":"b59","b59":"b60 b73 b88 b64","b61":"b64","b62":"b64","b63":"b65",
    "b64":"b65 b67 b69 b92","b65":"b66 b70 b69 b94","b66":"b72 b96","b74":"b88","b75":"b76 b84","b76":"b84","b77":"b80 b85","b78":"b79 b80",
    "b79":"b80","b80":"b81","b82":"b83 b84","b83":"b84","b84":"b85","b85":"b87","b87":"b88","b88":"b89 b90 b92 b100","b90":"b91 b92",
    "b92":"b93 b94 b99 b97","b94":"b95 b98","b97":"b98",
    "m1":"m2","m2":"m5","m3":"m6","m4":"m7","m7":"m11","m5":"m6 m9","m6":"m9 m10","m9":"m10","m10":"m19","m11":"m12 m18","m13":"m15","m14":"m15",
    "m15":"m18","m16":"m18","m19":"m20 m34","m21":"m22 m26 m28 m34","m22":"m23","m23":"m24 m25 m26","m24":"m25","m27":"m28","m28":"m34",
    "m29":"m30","m30":"m35","m31":"m32","m32":"m33","m33":"m35","m34":"m35 m49 m50 m53","m35":"m53 m54","m36":"m37","m37":"m41","m38":"m41",
    "m45":"m40","m41":"m46 m48","m46":"m47 m51","m50":"m51 m53","m51":"m52 m53","m56":"m35 m53",
    "s5":"s6","s6":"s7 s8 s9 s10","s7":"k2","s8":"s10 s21","s11":"s12 s13 s10","s12":"s14 s15","s14":"s15","s15":"s16","s18":"k78","s19":"k2 s20",
    "s21":"k2","v1":"v3 k144","s25":"k144","k155":"k144","v3":"v4 v5","v4":"v6","v6":"v7 v8","v8":"v10","v9":"v10","v10":"v11 v12",
    "v12":"v13 v14 v15 v16","v13":"v14","v14":"v16","v15":"v16","v16":"v17","v18":"v20","v19":"v20","k145":"v20","v20":"v21",
    "k154":"v22 k141","v22":"v23 v24 v29","v23":"v24 v25","v24":"v26 v27","v27":"v28","v29":"v30 v31","v30":"v33","v31":"v32",
    "v36":"k153 k152","v37":"k153","v38":"k153 v39 k149","v39":"k149","v40":"v41 v42 k123","v41":"v43",
    "k67":"w1 k68","w1":"w2 w3 w8 w9 w5 w10","w2":"w3 w4","w3":"w4 w5 w8","w4":"w5 w6","w5":"w6 w7 w9","w6":"w7 w14","w7":"w9 w11 w15","w8":"w9",
    "w11":"w20","w12":"w14","w13":"w14","w14":"w15","w15":"w16 w17","w16":"w17","w17":"w18","w18":"w19",
}

LABELS_A = {
    "c45":"GhAUX1","c62":"GhRPL5B","c63":"GhF21M11.2","c84":"GhRPL23AB","c101":"GhRPL24","c119":"GhARP2","c127":"GhRPSaB",
    "c114":"GhRPS8B","c142":"GhRPL13","c143":"GhRPS17","c174":"GhRPL10","c183":"GhRPS10-2","c184":"GhRPL15","c186":"GhRPL28",
    "c187":"GhPICBP","c191":"GhRBR1","c207":"GhRPS15AA","c228":"GhRPL6","c248":"GhCDC6","c259":"GhMCM5","c292":"GhMCM3",
    "c293":"GhMCM6","c313":"GhMCM4","c318":"GhEMB2813","c324":"GhPOLA",
}
LABELS_B = {
    "k10":"GbNCED3","k13":"GbABI2","k32":"GbABI1","k31":"GbMPK3","k57":"GbCYP74A","k25":"GbLOX3","k58":"GbLOX4","k44":"GbABF2",
    "k49":"GbNAC072","k46":"GbLTI65","k53":"GbMYC2","k100":"GbTIFY10A","k106":"GbPAL1","k80":"GbDREB2A","k99":"GbWRKY33",
    "k86":"GbRD22","k114":"GbCYP73A5","k118":"GbDFRA","k124":"GbWRKY40",
}
# nodes that sit on top of a neighbour's label in the original
OVER_LABELS = ["c115", "c144", "c206", "k125"]

PANEL_LETTERS = [("A", 160, 57), ("B", 1051, 57)]

LEVEL_COLOURS = ["#3d8ec8","#4a96cd","#5ea3d2","#7cb4d6","#a0c8de","#bcd9e5","#d6e8ea","#eef5f1","#f7eee8",
                 "#f8d0c6","#f5b0a3","#f28e80","#ee3523"]
LEVEL_SIZES = [9, 10.5, 12.5, 14, 15.5, 17, 18.5, 20, 21, 23, 25, 26, 31]

# the page body has an 8px margin, so the axes start 8px later to land marks where they were read
PAGE_MARGIN = 8

keys, xs, ys, levels = [], [], [], []
for rows, left, top, sx, sy in REGIONS:
    for key, x, y, level in rows:
        keys.append(key)
        xs.append(left + x / sx)
        ys.append(top + y / sy)
        levels.append(level)
xs, ys, levels = np.array(xs), np.array(ys), np.array(levels, dtype=float)
index = {key: i for i, key in enumerate(keys)}
sizes = np.interp(levels, np.arange(13), LEVEL_SIZES)

pairs = set()
for table in (EDGES_A, EDGES_B):
    for source, targets in table.items():
        for target in targets.split():
            pairs.add(tuple(sorted((index[source], index[target]))))

# nodes short of typed links: join them to the nearest equal or higher class node
link_count = np.zeros(len(keys), dtype=int)
for a, b in pairs:
    link_count[a] += 1
    link_count[b] += 1
for i in np.argsort(levels):
    need = 1 + int(levels[i]) - link_count[i]
    if need <= 0:
        continue
    same_panel = (xs < 1065) == (xs[i] < 1065)
    candidates = np.where(same_panel & (levels >= levels[i]) & (np.arange(len(keys)) != i))[0]
    order = candidates[np.argsort(np.hypot(xs[candidates] - xs[i], ys[candidates] - ys[i]))]
    for j in order[:need]:
        pairs.add(tuple(sorted((i, int(j)))))

edge_x, edge_y = [], []
for a, b in sorted(pairs):
    edge_x += [xs[a], xs[b], None]
    edge_y += [ys[a], ys[b], None]

colourscale = [[n / 12, colour] for n, colour in enumerate(LEVEL_COLOURS)]
node_marker = dict(size=sizes, color=levels, colorscale=colourscale, cmin=0, cmax=12,
                   line=dict(color="rgba(255,255,255,0.6)", width=0.6), opacity=1)

fig = go.Figure()
fig.add_trace(go.Scatter(x=edge_x, y=edge_y, mode="lines", hoverinfo="skip",
                         line=dict(color="rgba(176,168,168,0.6)", width=0.9)))
fig.add_trace(go.Scatter(x=xs, y=ys, mode="markers", marker=node_marker, text=keys, hoverinfo="text"))

labels = {**LABELS_A, **LABELS_B}
fig.add_trace(go.Scatter(
    x=[xs[index[k]] for k in labels],
    y=[ys[index[k]] for k in labels],
    mode="text",
    text=list(labels.values()),
    textposition="middle center",
    textfont=dict(family="Liberation Sans", size=10, color="#2b2b2b"),
    hoverinfo="skip",
))
over = [index[k] for k in OVER_LABELS]
fig.add_trace(go.Scatter(x=xs[over], y=ys[over], mode="markers", hoverinfo="skip",
                         marker=dict(size=sizes[over], color=levels[over], colorscale=colourscale, cmin=0, cmax=12)))

for letter, x, y in PANEL_LETTERS:
    fig.add_annotation(x=x, y=y, text=letter, showarrow=False,
                       font=dict(family="Liberation Serif", size=38, color="#111111"))

fig.update_xaxes(range=[PAGE_MARGIN, 2030 + PAGE_MARGIN], visible=False, fixedrange=True)
fig.update_yaxes(range=[1107 + PAGE_MARGIN, PAGE_MARGIN], visible=False, fixedrange=True)
fig.update_layout(width=2030, height=1107, margin=dict(l=0, r=0, t=0, b=0), showlegend=False,
                  paper_bgcolor="white", plot_bgcolor="white")

fig.write_html("out.html")
